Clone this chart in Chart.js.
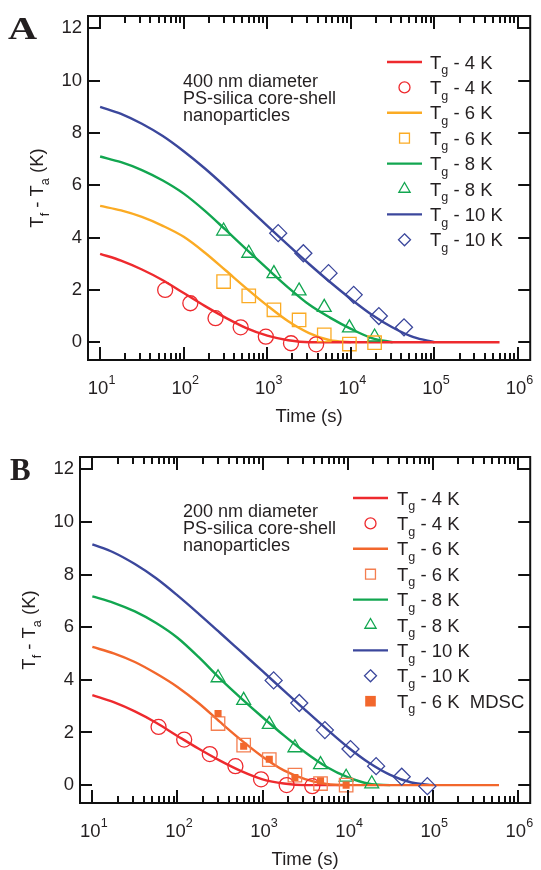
<!DOCTYPE html>
<html>
<head>
<meta charset="utf-8">
<script src="https://cdn.jsdelivr.net/npm/chart.js@4.4.1/dist/chart.umd.min.js"></script>
<style>
  html, body { margin: 0; padding: 0; background: #fff; }
  .panel { position: absolute; left: 0; width: 541px; height: 435px; }
</style>
</head>
<body>
<div class="panel" style="top:0"><canvas id="chartA" width="541" height="435"></canvas></div>
<div class="panel" style="top:435px"><canvas id="chartB" width="541" height="435"></canvas></div>
<script>
// ---- data ----
// fit curves sampled every quarter decade of time (s)
const fitTimes = [10, 17.8, 31.6, 56.2, 100, 178, 316, 562, 1000, 1780, 3160, 5620, 1e4, 1.78e4, 3.16e4, 5.62e4, 1e5, 1.78e5, 3.16e5, 6e5];

// panel A: 400 nm
const fitA4  = [3.38, 3.12, 2.78, 2.37, 1.88, 1.39, 0.94, 0.54, 0.25, 0.075, 0, 0, 0, 0, 0, 0, 0, 0, 0, 0];
const fitA6  = [5.21, 5.04, 4.79, 4.45, 4.03, 3.43, 2.75, 2.06, 1.4, 0.8, 0.35, 0.075, 0, null, null, null, null, null, null, null];
const fitA8  = [7.1, 6.88, 6.58, 6.18, 5.68, 5.03, 4.3, 3.55, 2.81, 2.09, 1.44, 0.94, 0.51, 0.16, 0, null, null, null, null, null];
const fitA10 = [9.0, 8.73, 8.35, 7.88, 7.3, 6.65, 5.94, 5.19, 4.45, 3.71, 2.99, 2.3, 1.65, 1.05, 0.56, 0.19, 0, null, null, null];

const circleTimes = [60, 120, 240, 480, 960, 1920, 3840];
const squareTimes = [300, 600, 1200, 2400, 4800, 9600, 19200];
const diamondTimes = [1350, 2700, 5400, 10800, 21600, 43200, 86400];

const expA4  = [2.0, 1.49, 0.92, 0.57, 0.21, -0.04, -0.08];
const expA6  = [2.32, 1.77, 1.24, 0.85, 0.28, -0.07, -0.02];
const expA8  = [4.25, 3.4, 2.62, 1.96, 1.33, 0.55, 0.2];
const expA10 = [4.17, 3.4, 2.64, 1.81, 1.0, 0.57];

// panel B: 200 nm
const fitB4  = [3.42, 3.15, 2.8, 2.37, 1.87, 1.38, 0.93, 0.53, 0.22, 0.06, 0, 0, 0, null, null, null, null, null, null, null];
const fitB6  = [5.25, 5.01, 4.68, 4.24, 3.73, 3.11, 2.4, 1.71, 1.08, 0.56, 0.23, 0.04, 0, 0, 0, 0, 0, 0, 0, 0];
const fitB8  = [7.17, 6.93, 6.6, 6.16, 5.6, 4.86, 4.05, 3.3, 2.58, 1.89, 1.25, 0.7, 0.3, 0.05, 0, null, null, null, null, null];
const fitB10 = [9.15, 8.84, 8.4, 7.86, 7.21, 6.51, 5.79, 5.06, 4.33, 3.59, 2.86, 2.14, 1.45, 0.85, 0.39, 0.1, 0, null, null, null];

const expB4   = [2.21, 1.73, 1.18, 0.72, 0.22, 0.0, -0.04];
const expB6   = [2.34, 1.52, 0.97, 0.38, 0.06, 0.0];
const expB8   = [4.08, 3.22, 2.31, 1.42, 0.78, 0.3, 0.05];
const expB10  = [3.98, 3.12, 2.09, 1.37, 0.72, 0.32, -0.04];
const mdscB6  = [2.72, 1.48, 0.98, 0.29, 0.16, 0.0];

const yTicks = [0, 2, 4, 6, 8, 10, 12];
const xDecades = [1, 2, 3, 4, 5, 6];

const labelsA = ['Tg - 4 K', 'Tg - 4 K', 'Tg - 6 K', 'Tg - 6 K', 'Tg - 8 K', 'Tg - 8 K', 'Tg - 10 K', 'Tg - 10 K'];
const labelsB = ['Tg - 4 K', 'Tg - 4 K', 'Tg - 6 K', 'Tg - 6 K', 'Tg - 8 K', 'Tg - 8 K', 'Tg - 10 K', 'Tg - 10 K', 'Tg - 6 K  MDSC'];
const noteA = ['400 nm diameter', 'PS-silica core-shell', 'nanoparticles'];
const noteB = ['200 nm diameter', 'PS-silica core-shell', 'nanoparticles'];

// ---- styling ----
const FONT = '"Liberation Sans", Arial, sans-serif';
const RED = '#ee2a2e', YEL = '#fbab24', GRN = '#12a650', BLU = '#3b479c', ORG = '#f2672c', ORG2 = '#f47e50';

function lineSet(label, values, color, order) {
  return {
    label, order,
    data: fitTimes.map((t, i) => ({x: t, y: values[i]})),
    borderColor: color, borderWidth: 2.4, pointRadius: 0, pointHoverRadius: 0,
    cubicInterpolationMode: 'monotone', fill: false, spanGaps: false
  };
}
function markerSet(label, times, values, color, style, r, filled) {
  return {
    label, order: 0, showLine: false,
    data: values.map((v, i) => ({x: times[i], y: v})),
    pointStyle: style, pointRadius: r, pointHoverRadius: r,
    pointBorderColor: color, pointBorderWidth: filled ? 0 : 1.3,
    pointBackgroundColor: filled ? color : 'rgba(0,0,0,0)'
  };
}

function rich(ctx, x, y, parts, size, align) {
  const small = size * 0.68;
  let w = 0;
  parts.forEach(p => { ctx.font = (p[1] ? small : size) + 'px ' + FONT; w += ctx.measureText(p[0]).width; });
  let cx = align === 'center' ? x - w / 2 : x;
  ctx.textAlign = 'left';
  ctx.textBaseline = 'alphabetic';
  parts.forEach(p => {
    ctx.font = (p[1] ? small : size) + 'px ' + FONT;
    const dy = p[1] === 'sub' ? size * 0.3 : (p[1] === 'sup' ? -size * 0.54 : 0);
    ctx.fillText(p[0], cx, y + dy);
    cx += ctx.measureText(p[0]).width;
  });
}
function tgParts(label) {
  return [['T'], [label.slice(1, 2), 'sub'], [label.slice(2)]];
}
function marker(ctx, style, x, y, r, color, filled) {
  ctx.beginPath();
  if (style === 'circle') ctx.arc(x, y, r, 0, Math.PI * 2);
  else if (style === 'rect') { const s = r * Math.SQRT1_2; ctx.rect(x - s, y - s, 2 * s, 2 * s); }
  else if (style === 'triangle') {
    for (let k = 0; k < 3; k++) {
      const ang = k * 2 * Math.PI / 3;
      const px = x + Math.sin(ang) * r, py = y - Math.cos(ang) * r;
      k ? ctx.lineTo(px, py) : ctx.moveTo(px, py);
    }
    ctx.closePath();
  } else if (style === 'rectRot') {
    ctx.moveTo(x, y - r); ctx.lineTo(x + r, y); ctx.lineTo(x, y + r); ctx.lineTo(x - r, y); ctx.closePath();
  }
  if (filled) { ctx.fillStyle = color; ctx.fill(); }
  else { ctx.strokeStyle = color; ctx.lineWidth = 1.3; ctx.stroke(); }
}

const decor = {
  id: 'decor',
  afterDraw(chart, args, o) {
    const {ctx, chartArea: a, scales: {x, y}} = chart;
    ctx.save();
    ctx.strokeStyle = '#111';
    ctx.lineWidth = 2;
    ctx.strokeRect(a.left, a.top, a.right - a.left, a.bottom - a.top);
    ctx.beginPath();
    xDecades.forEach(d => {
      const px = Math.round(x.getPixelForValue(Math.pow(10, d)));
      ctx.moveTo(px, a.bottom); ctx.lineTo(px, a.bottom - 13);
      ctx.moveTo(px, a.top); ctx.lineTo(px, a.top + 13);
      if (d < 6) {
        for (let k = 2; k <= 9; k++) {
          const mx = Math.round(x.getPixelForValue(k * Math.pow(10, d)));
          ctx.moveTo(mx, a.bottom); ctx.lineTo(mx, a.bottom - 7);
          ctx.moveTo(mx, a.top); ctx.lineTo(mx, a.top + 7);
        }
      }
    });
    yTicks.forEach(v => {
      const py = Math.round(y.getPixelForValue(v));
      ctx.moveTo(a.left, py); ctx.lineTo(a.left + 12, py);
      ctx.moveTo(a.right, py); ctx.lineTo(a.right - 12, py);
    });
    ctx.stroke();

    ctx.fillStyle = '#231f20';
    xDecades.forEach(d => {
      const px = x.getPixelForValue(Math.pow(10, d));
      rich(ctx, px + 1.5, a.bottom + 33.5, [['10'], [String(d), 'sup']], 18.5, 'center');
    });
    rich(ctx, (a.left + a.right) / 2, a.bottom + 62, [['Time (s)']], 18.5, 'center');

    ctx.save();
    ctx.translate(o.yTitleX, (a.top + a.bottom) / 2);
    ctx.rotate(-Math.PI / 2);
    rich(ctx, 0, 0, [['T'], ['f', 'sub'], [' - T'], ['a', 'sub'], [' (K)']], 18.5, 'center');
    ctx.restore();

    // panel letter
    ctx.save();
    ctx.font = 'bold 31px "Liberation Serif", "DejaVu Serif", serif';
    ctx.textAlign = 'left';
    ctx.translate(o.letterX, o.letterY);
    ctx.scale(o.letterScale, 1);
    ctx.fillText(o.letter, 0, 0);
    ctx.restore();

    // note
    ctx.font = '18px ' + FONT;
    ctx.textAlign = 'left';
    o.note.forEach((t, i) => ctx.fillText(t, o.noteX, o.noteY + i * 17));

    // legend
    o.legend.forEach((row, i) => {
      const ry = o.legY + i * 25.4;
      if (row.style === 'line') {
        ctx.strokeStyle = row.color; ctx.lineWidth = 2.4;
        ctx.beginPath(); ctx.moveTo(o.legX0, ry); ctx.lineTo(o.legX1, ry); ctx.stroke();
      } else {
        marker(ctx, row.style, (o.legX0 + o.legX1) / 2, ry, row.r, row.color, row.filled);
      }
      ctx.fillStyle = '#231f20';
      rich(ctx, o.legTextX, ry + 6.6, tgParts(row.label), 18.5, 'left');
    });
    ctx.restore();
  }
};

function makePanel(id, datasets, fit, deco) {
  return new Chart(document.getElementById(id), {
    type: 'line',
    data: {datasets},
    plugins: [decor],
    options: {
      responsive: false,
      animation: false,
      layout: {padding: {top: fit.top, right: fit.right, left: 0, bottom: 0}},
      plugins: {legend: {display: false}, tooltip: {enabled: false}, decor: deco},
      scales: {
        x: {
          type: 'logarithmic', position: 'bottom',
          min: Math.pow(10, 0.855), max: Math.pow(10, 6.145),
          grid: {display: false, drawTicks: false}, border: {display: false},
          ticks: {display: false},
          afterFit: s => { s.height = fit.xh; s.paddingLeft = s.paddingRight = s.paddingTop = s.paddingBottom = 0; }
        },
        y: {
          type: 'linear', position: 'left', min: -0.68, max: 12.47,
          grid: {display: false, drawTicks: false}, border: {display: false},
          ticks: {color: '#231f20', padding: 6, font: {family: FONT, size: 18.5}},
          afterBuildTicks: s => { s.ticks = yTicks.map(v => ({value: v})); },
          afterFit: s => { s.width = fit.yw; s.paddingLeft = s.paddingRight = s.paddingTop = s.paddingBottom = 0; }
        }
      }
    }
  });
}

makePanel('chartA', [
  markerSet(labelsA[1], circleTimes, expA4, RED, 'circle', 7.5, false),
  markerSet(labelsA[3], squareTimes, expA6, YEL, 'rect', 9.5, false),
  markerSet(labelsA[5], squareTimes, expA8, GRN, 'triangle', 8, false),
  markerSet(labelsA[7], diamondTimes, expA10, BLU, 'rectRot', 8.5, false),
  lineSet(labelsA[0], fitA4, RED, 1),
  lineSet(labelsA[2], fitA6, YEL, 2),
  lineSet(labelsA[4], fitA8, GRN, 2),
  lineSet(labelsA[6], fitA10, BLU, 2)
], {top: 16, right: 1, xh: 75, yw: 88}, {
  yTitleX: 43, letter: 'A', letterX: 8, letterY: 39, letterScale: 1.3,
  note: noteA, noteX: 183, noteY: 87,
  legX0: 387, legX1: 422, legTextX: 430, legY: 62,
  legend: [
    {style: 'line', color: RED, label: labelsA[0]},
    {style: 'circle', color: RED, r: 5.5, label: labelsA[1]},
    {style: 'line', color: YEL, label: labelsA[2]},
    {style: 'rect', color: YEL, r: 7, label: labelsA[3]},
    {style: 'line', color: GRN, label: labelsA[4]},
    {style: 'triangle', color: GRN, r: 6.5, label: labelsA[5]},
    {style: 'line', color: BLU, label: labelsA[6]},
    {style: 'rectRot', color: BLU, r: 6, label: labelsA[7]}
  ]
});

makePanel('chartB', [
  markerSet(labelsB[8], squareTimes, mdscB6, ORG, 'rect', 5, true),
  markerSet(labelsB[1], circleTimes, expB4, RED, 'circle', 7.5, false),
  markerSet(labelsB[3], squareTimes, expB6, ORG2, 'rect', 9.5, false),
  markerSet(labelsB[5], squareTimes, expB8, GRN, 'triangle', 8, false),
  markerSet(labelsB[7], diamondTimes, expB10, BLU, 'rectRot', 8.5, false),
  lineSet(labelsB[2], fitB6, ORG, 1),
  lineSet(labelsB[0], fitB4, RED, 2),
  lineSet(labelsB[4], fitB8, GRN, 2),
  lineSet(labelsB[6], fitB10, BLU, 2)
], {top: 22, right: 9, xh: 67, yw: 80}, {
  yTitleX: 35, letter: 'B', letterX: 10, letterY: 45, letterScale: 1,
  note: noteB, noteX: 183, noteY: 82,
  legX0: 353, legX1: 388, legTextX: 397, legY: 63,
  legend: [
    {style: 'line', color: RED, label: labelsB[0]},
    {style: 'circle', color: RED, r: 5.5, label: labelsB[1]},
    {style: 'line', color: ORG, label: labelsB[2]},
    {style: 'rect', color: ORG2, r: 7, label: labelsB[3]},
    {style: 'line', color: GRN, label: labelsB[4]},
    {style: 'triangle', color: GRN, r: 6.5, label: labelsB[5]},
    {style: 'line', color: BLU, label: labelsB[6]},
    {style: 'rectRot', color: BLU, r: 6, label: labelsB[7]},
    {style: 'rect', color: ORG, r: 7.5, filled: true, label: labelsB[8]}
  ]
});
</script>
</body>
</html>
